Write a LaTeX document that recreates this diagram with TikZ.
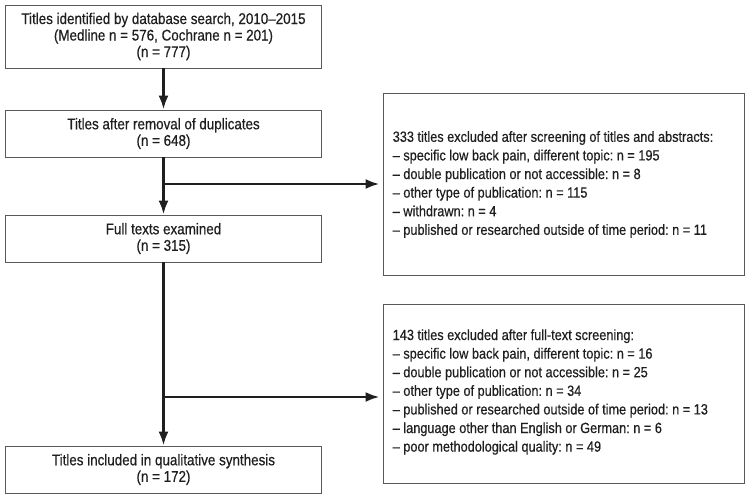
\documentclass[tikz,border=0pt]{standalone}
\usepackage{fontspec}
\setmainfont{Liberation Sans}[FakeStretch=0.86,FakeBold=0.5]
\newfontfamily\boxfont{Liberation Sans}[FakeStretch=0.865,FakeBold=0.5]
\usetikzlibrary{arrows.meta,calc}
\begin{document}
\frenchspacing
\begin{tikzpicture}[x=1pt,y=-1pt,
  mainbox/.style={draw=black!65,line width=0.9pt,minimum width=316pt,inner sep=0pt,align=center,
     font=\boxfont\fontsize{15.5}{16.5}\selectfont,text=black!88},
  sidebox/.style={draw=black!65,line width=0.9pt,minimum width=361pt,inner sep=0pt},
  sidetext/.style={anchor=west,inner sep=0pt,align=left,font=\fontsize{14.8}{18.6}\selectfont,text=black!88},
  flow/.style={draw=black!88,line width=2.6pt,-{Latex[length=14pt,width=10pt]}}]
\useasboundingbox (0,0) rectangle (750,499);
\node[mainbox,minimum height=63pt] (b1) at (163.5,36.5) {Titles identified by database search, 2010–2015\\(Medline n = 576, Cochrane n = 201)\\(n = 777)};
\node[mainbox,minimum height=47pt] (b2) at (163.5,133.5) {Titles after removal of duplicates\\(n = 648)};
\node[mainbox,minimum height=47pt] (b3) at (163.5,238.5) {Full texts examined\\(n = 315)};
\node[mainbox,minimum height=47pt] (b4) at (163.5,469.5) {Titles included in qualitative synthesis\\(n = 172)};
\node[sidebox,minimum height=182pt] (r1) at (563.5,184) {};
\node[sidetext] (t1) at ([xshift=10pt,yshift=-0.5pt]r1.west) {333 titles excluded after screening of titles and abstracts:\\
– specific low back pain, different topic: n = 195\\
– double publication or not accessible: n = 8\\
– other type of publication: n = 115\\
– withdrawn: n = 4\\
– published or researched outside of time period: n = 11};
\node[sidebox,minimum height=179pt] (r2) at (563.5,393.5) {};
\node[sidetext] (t2) at ([xshift=10pt,yshift=1.5pt]r2.west) {143 titles excluded after full-text screening:\\
– specific low back pain, different topic: n = 16\\
– double publication or not accessible: n = 25\\
– other type of publication: n = 34\\
– published or researched outside of time period: n = 13\\
– language other than English or German: n = 6\\
– poor methodological quality: n = 49};
\coordinate (j1) at (b2.south |- r1.west);
\coordinate (j2) at (163.5,397);
\draw[flow] (b1) -- (b2);
\draw[flow] (b2) -- (b3);
\draw[flow] (b3) -- (b4);
\draw[flow,shorten >=3pt] (j1) -- (r1.west);
\draw[flow,shorten >=3pt] (j2) -- (j2 -| r2.west);
\end{tikzpicture}
\end{document}
